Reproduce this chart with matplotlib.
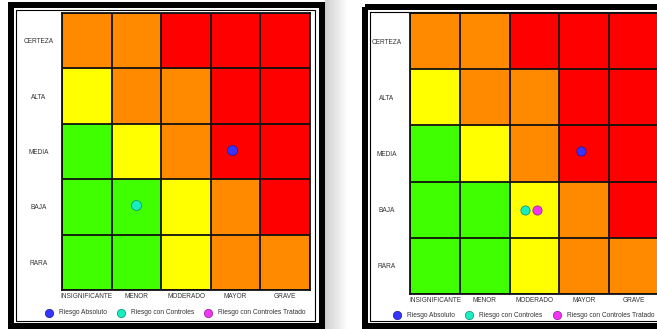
import numpy as np
import matplotlib
matplotlib.use('Agg')
import matplotlib.pyplot as plt
from matplotlib.colors import ListedColormap
from matplotlib.patches import Rectangle

plt.rcParams['font.family'] = ['Liberation Sans', 'DejaVu Sans']

# Ejes de la matriz de riesgo
impacto = ['INSIGNIFICANTE', 'MENOR', 'MODERADO', 'MAYOR', 'GRAVE']
probabilidad = ['RARA', 'BAJA', 'MEDIA', 'ALTA', 'CERTEZA']

# nivel por celda, filas de RARA (abajo) a CERTEZA (arriba)
# 0 verde, 1 amarillo, 2 naranja, 3 rojo
niveles = [[0, 0, 1, 2, 2],
           [0, 0, 1, 2, 3],
           [0, 1, 2, 3, 3],
           [1, 2, 2, 3, 3],
           [2, 2, 3, 3, 3]]
colores_nivel = ['#3fff00', '#ffff00', '#ff8a00', '#ff0000']

series = ['Riesgo Absoluto', 'Riesgo con Controles', 'Riesgo con Controles Tratado']
colores_serie = ['#3535ff', '#18eec0', '#f235f2']
bordes_serie = ['#1a1aa0', '#0a8a70', '#902090']

# posicion de cada riesgo (indice impacto, indice probabilidad); nan = no aparece
izq_x = [2.92, 1.0, np.nan]
izq_y = [2.03, 1.03, np.nan]
der_x = [2.93, 1.8, 2.05]
der_y = [2.04, 1.0, 1.0]

W, H = 657, 329
fig = plt.figure(figsize=(W / 100, H / 100), dpi=100)

# fondo: marcos y sombra en coordenadas de pixel
bg = fig.add_axes([0, 0, 1, 1])
grad = np.linspace(0.7, 1.0, 50)[None, :] ** 0.6
bg.imshow(grad, cmap='gray', vmin=0, vmax=1, extent=[325, 348, H, 0], aspect='auto')
bg.set_xlim(0, W)
bg.set_ylim(H, 0)
bg.axis('off')
bg.add_patch(Rectangle((11, 5), 311, 321, fill=False, ec='black', lw=6 * 0.72))
bg.add_patch(Rectangle((16, 10), 299, 311, fill=False, ec='black', lw=0.8))
bg.add_patch(Rectangle((365, 7), 400, 319, fill=False, ec='black', lw=6 * 0.72))
bg.add_patch(Rectangle((370, 12), 400, 309, fill=False, ec='black', lw=0.8))


def matriz(rect, xs, ys, msize, leg_y):
    ax = fig.add_axes(rect)
    ax.imshow(niveles, cmap=ListedColormap(colores_nivel), vmin=-0.5, vmax=3.5,
              origin='lower', extent=(-0.5, 4.5, -0.5, 4.5), aspect='auto')
    for k in np.arange(-0.5, 5.0, 1.0):
        ax.axhline(k, color='#111111', lw=1.3)
        ax.axvline(k, color='#111111', lw=1.3)
    for i in range(3):
        ax.scatter([xs[i]], [ys[i]], s=msize, color=colores_serie[i],
                   edgecolors=bordes_serie[i], linewidths=0.5, label=series[i], zorder=5)
    ax.set_xlim(-0.5, 4.5)
    ax.set_ylim(-0.5, 4.5)
    ax.set_xticks(range(5), impacto)
    ax.set_yticks(range(5), probabilidad)
    ax.tick_params(length=0, labelsize=4.7, colors='#333333')
    ax.tick_params(axis='x', pad=2)
    ax.tick_params(axis='y', pad=17)
    for lbl in ax.get_yticklabels():
        lbl.set_ha('center')
    for s in ax.spines.values():
        s.set_color('#111111')
        s.set_linewidth(1.3)
    # markerscale se aplica al cuadrado en los scatter
    leg = ax.legend(loc='center', bbox_to_anchor=(0.455, leg_y), ncol=3, frameon=False,
                    fontsize=4.8, markerscale=np.sqrt(36 / msize), handlelength=1.5,
                    handletextpad=0.75, columnspacing=1.4)
    for t in leg.get_texts():
        t.set_color('#333333')
    return ax


matriz([62 / W, 1 - 290 / H, 248 / W, 277 / H], izq_x, izq_y, 52, -0.083)
matriz([410 / W, 1 - 294 / H, 249 / W, 281 / H], der_x, der_y, 44, -0.075)

fig.savefig('out.png', dpi=100)
